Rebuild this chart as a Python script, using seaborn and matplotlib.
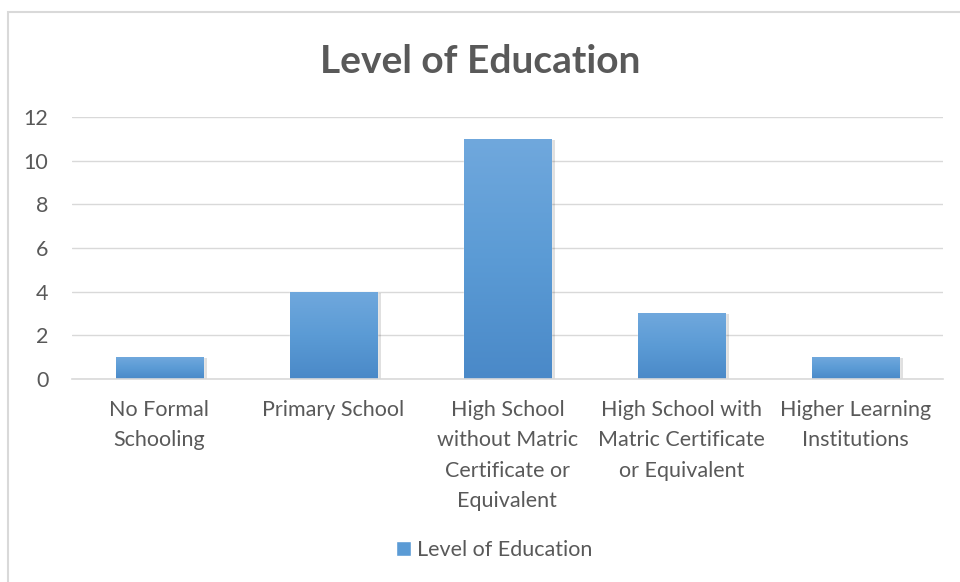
import numpy as np
import pandas as pd
import seaborn as sns
from matplotlib import pyplot as plt
from matplotlib.patches import Rectangle
from matplotlib.colors import LinearSegmentedColormap

categories = ['No Formal\nSchooling', 'Primary School',
              'High School\nwithout Matric\nCertificate or\nEquivalent',
              'High School with\nMatric Certificate\nor Equivalent',
              'Higher Learning\nInstitutions']
counts = [1, 4, 11, 3, 1]
series_name = 'Level of Education'

df = pd.DataFrame({'category': categories, 'count': counts})

sns.set_style('white')
plt.rcParams['font.family'] = ['Lato', 'DejaVu Sans']
grey = '#595959'

fig = plt.figure(figsize=(9.6, 5.82), dpi=100)
ax = fig.add_axes([0.075, 0.349, 0.907, 0.45])
sns.barplot(data=df, x='category', y='count', color='#5B9BD5', width=0.5,
            saturation=1, ax=ax, label=series_name)

# gradient fill on bars, like the office chart
cmap = LinearSegmentedColormap.from_list('g', ['#4A89C8', '#5B9BD5', '#70A8DD'])
grad = np.linspace(0, 1, 256).reshape(-1, 1)
for p in ax.patches:
    x0, y0 = p.get_x(), p.get_y()
    w, h = p.get_width(), p.get_height()
    # soft shadow
    ax.add_patch(Rectangle((x0 + 0.012, y0), w + 0.012, h - 0.05, color='#000000',
                           alpha=0.12, zorder=1.5, linewidth=0))
    im = ax.imshow(grad, extent=[x0, x0 + w, y0, y0 + h], origin='lower',
                   cmap=cmap, aspect='auto', zorder=2)
    im.set_clip_path(p)
    p.set_zorder(2)

ax.set_xlim(-0.5, 4.5)
ax.set_ylim(0, 12)
ax.set_yticks(range(0, 13, 2))
ax.yaxis.grid(True, color='#D9D9D9', linewidth=1)
ax.set_axisbelow(True)
for s in ['top', 'right', 'left']:
    ax.spines[s].set_visible(False)
ax.spines['bottom'].set_color('#D9D9D9')
ax.spines['bottom'].set_linewidth(1.2)
ax.tick_params(axis='both', length=0, labelsize=15.5, labelcolor=grey)
ax.tick_params(axis='x', pad=15)
ax.tick_params(axis='y', pad=17)
for t in ax.get_xticklabels():
    t.set_linespacing(1.65)
ax.set_xlabel('')
ax.set_ylabel('')

fig.text(0.5, 0.895, 'Level of Education', ha='center', va='center',
         fontsize=28, fontweight='bold', color=grey)

leg = ax.legend(loc='center', bbox_to_anchor=(0.515, 0.055), bbox_transform=fig.transFigure,
                frameon=False, fontsize=15.5, handlelength=0.7, handleheight=0.7,
                handletextpad=0.3)
for t in leg.get_texts():
    t.set_color(grey)

fig.patches.append(Rectangle((8 / 960, -0.01), 0.995, 1 - 12 / 582 + 0.01,
                             transform=fig.transFigure, fill=False,
                             edgecolor='#D9D9D9', linewidth=1.5))

fig.savefig('out.png', dpi=100)
